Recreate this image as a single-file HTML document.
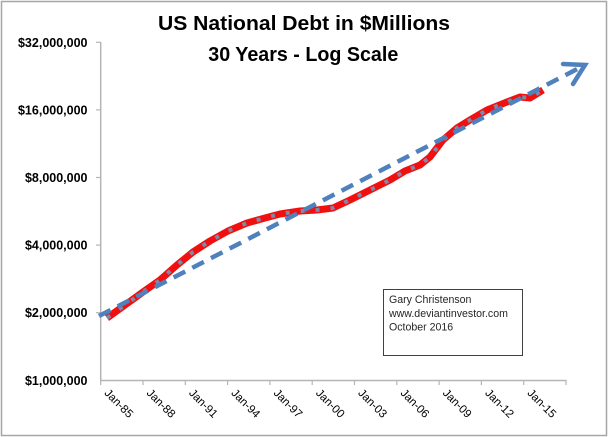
<!DOCTYPE html>
<html>
<head>
<meta charset="utf-8">
<style>
  html, body { margin:0; padding:0; background:#fff; }
  svg { display:block; }
  text { font-family: "Liberation Sans", Arial, sans-serif; }
</style>
</head>
<body>
<svg width="609" height="437" viewBox="0 0 609 437" xmlns="http://www.w3.org/2000/svg">
  <rect x="0" y="0" width="609" height="437" fill="#fff"/>
  <!-- outer frame -->
  <rect x="1.5" y="1.5" width="605" height="434" fill="none" stroke="#a6a6a6" stroke-width="1.5"/>

  <!-- title -->
  <text x="304" y="30" font-size="20" font-weight="bold" fill="#000" text-anchor="middle" textLength="292" lengthAdjust="spacingAndGlyphs">US National Debt in $Millions</text>
  <text x="303.3" y="61" font-size="20" font-weight="bold" fill="#000" text-anchor="middle" textLength="190" lengthAdjust="spacingAndGlyphs">30 Years - Log Scale</text>

  <!-- y axis -->
  <line x1="100.7" y1="42" x2="100.7" y2="381" stroke="#b5b5b5" stroke-width="1.5"/>
  <g stroke="#b5b5b5" stroke-width="1.2">
    <line x1="96" y1="42.3" x2="100.7" y2="42.3"/>
    <line x1="96" y1="109.9" x2="100.7" y2="109.9"/>
    <line x1="96" y1="177.5" x2="100.7" y2="177.5"/>
    <line x1="96" y1="245.1" x2="100.7" y2="245.1"/>
    <line x1="96" y1="312.7" x2="100.7" y2="312.7"/>
  </g>
  <g font-size="12.5" font-weight="bold" fill="#000" text-anchor="end">
    <text x="87.5" y="46.8">$32,000,000</text>
    <text x="87.5" y="114.4">$16,000,000</text>
    <text x="87.5" y="182">$8,000,000</text>
    <text x="87.5" y="249.6">$4,000,000</text>
    <text x="87.5" y="317.2">$2,000,000</text>
    <text x="87.5" y="384.8">$1,000,000</text>
  </g>

  <!-- x axis -->
  <line x1="100" y1="380.5" x2="566.5" y2="380.5" stroke="#b5b5b5" stroke-width="1.5"/>
  <g stroke="#b5b5b5" stroke-width="1.2">
    <line x1="100.7" y1="380" x2="100.7" y2="385"/>
    <line x1="143" y1="380" x2="143" y2="385"/>
    <line x1="185.3" y1="380" x2="185.3" y2="385"/>
    <line x1="227.6" y1="380" x2="227.6" y2="385"/>
    <line x1="269.9" y1="380" x2="269.9" y2="385"/>
    <line x1="312.2" y1="380" x2="312.2" y2="385"/>
    <line x1="354.5" y1="380" x2="354.5" y2="385"/>
    <line x1="396.8" y1="380" x2="396.8" y2="385"/>
    <line x1="439.1" y1="380" x2="439.1" y2="385"/>
    <line x1="481.4" y1="380" x2="481.4" y2="385"/>
    <line x1="523.7" y1="380" x2="523.7" y2="385"/>
    <line x1="566" y1="380" x2="566" y2="385"/>
  </g>
  <g font-size="11.5" fill="#000" text-anchor="middle">
    <text x="118.3" y="404" dominant-baseline="central" transform="rotate(45 118.3 404)">Jan-85</text>
    <text x="160.6" y="404" dominant-baseline="central" transform="rotate(45 160.6 404)">Jan-88</text>
    <text x="202.9" y="404" dominant-baseline="central" transform="rotate(45 202.9 404)">Jan-91</text>
    <text x="245.2" y="404" dominant-baseline="central" transform="rotate(45 245.2 404)">Jan-94</text>
    <text x="287.5" y="404" dominant-baseline="central" transform="rotate(45 287.5 404)">Jan-97</text>
    <text x="329.8" y="404" dominant-baseline="central" transform="rotate(45 329.8 404)">Jan-00</text>
    <text x="372.1" y="404" dominant-baseline="central" transform="rotate(45 372.1 404)">Jan-03</text>
    <text x="414.4" y="404" dominant-baseline="central" transform="rotate(45 414.4 404)">Jan-06</text>
    <text x="456.7" y="404" dominant-baseline="central" transform="rotate(45 456.7 404)">Jan-09</text>
    <text x="499" y="404" dominant-baseline="central" transform="rotate(45 499 404)">Jan-12</text>
    <text x="541.3" y="404" dominant-baseline="central" transform="rotate(45 541.3 404)">Jan-15</text>
  </g>

  <!-- text box -->
  <rect x="383.5" y="289.5" width="139" height="66" fill="#fff" stroke="#404040" stroke-width="1"/>
  <g font-size="10.6" fill="#262626">
    <text x="389" y="303">Gary Christenson</text>
    <text x="389" y="317">www.deviantinvestor.com</text>
    <text x="389" y="330.5">October 2016</text>
  </g>

  <!-- red data series -->
  <polyline fill="none" stroke="#f01010" stroke-width="7" stroke-linejoin="round" stroke-linecap="butt"
    points="107,318 125,305 143,292 160,280 177,265 193,252 210,241 228,231 247,223 265,218 280,214 300,211 317,210 333,208 350,200 370,190 390,180 405,171 420,165 430,157 443,140 457,128 470,120 487,110 507,102 520,97 530,98 543,90"/>
  <polyline fill="none" stroke="#8585a5" stroke-width="4" stroke-dasharray="4 11" stroke-linejoin="round"
    points="107,318 125,305 143,292 160,280 177,265 193,252 210,241 228,231 247,223 265,218 280,214 300,211 317,210 333,208 350,200 370,190 390,180 405,171 420,165 430,157 443,140 457,128 470,120 487,110 507,102 520,97 530,98 543,90"/>

  <!-- trend line with arrow -->
  <line x1="99" y1="316" x2="583" y2="66" stroke="#4f81bd" stroke-width="4.5" stroke-dasharray="13 8"/>
  <polyline fill="none" stroke="#4f81bd" stroke-width="4.5" stroke-linejoin="miter" stroke-linecap="round"
    points="563,64 585,65 573,84"/>
</svg>
</body>
</html>
